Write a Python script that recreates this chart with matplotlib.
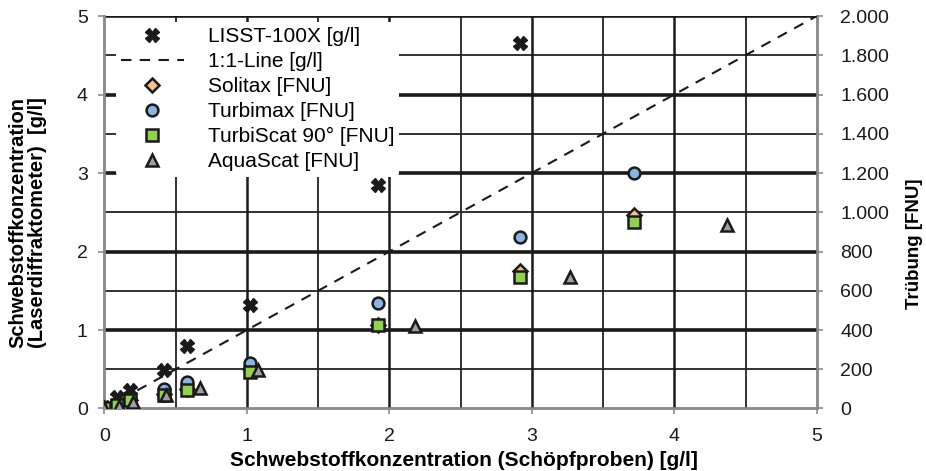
import matplotlib
matplotlib.use("Agg")
import matplotlib.pyplot as plt
from matplotlib.ticker import FuncFormatter, MultipleLocator

plt.rcParams['font.family'] = ['Liberation Sans', 'DejaVu Sans']

# Sample concentrations (Schöpfproben) [g/l]
x_probe = [0.0, 0.09, 0.18, 0.42, 0.58, 1.02, 1.92, 2.92, 3.72]
x_aqua = [0.0, 0.10, 0.20, 0.43, 0.67, 1.08, 2.18, 3.27, 4.37]

# LISST-100X concentration [g/l]
lisst = [0.02, 0.15, 0.24, 0.49, 0.79, 1.32, 2.85, 4.66, None]

# Turbidity readings [FNU]
solitax = [0, 20, 45, 72, 100, 200, 428, 700, 985]
turbimax = [0, 25, 50, 98, 137, 231, 538, 876, 1200]
turbiscat = [0, 18, 43, 69, 95, 188, 424, 671, 950]
aquascat = [0, 13, 35, 68, 103, 196, 422, 671, 933]

one_to_one = [0, 5]

fig = plt.figure(figsize=(9.26, 4.71), dpi=100)
ax = fig.add_axes([0.1128, 0.1327, 0.7692, 0.8333])
ax2 = ax.twinx()

ax.set_xlim(0, 5)
ax.set_ylim(0, 5)
ax2.set_ylim(0, 2000)

# grid: half-steps thin, whole steps heavy
for v in [0.5, 1.5, 2.5, 3.5, 4.5]:
    ax.axhline(v, color='#222222', lw=1.3, zorder=0.5)
    ax.axvline(v, color='#222222', lw=1.3, zorder=0.5)
for v in [1, 2, 3, 4, 5]:
    ax.axhline(v, color='#1a1a1a', lw=2.6, zorder=0.5)
    if v < 5:
        ax.axvline(v, color='#1a1a1a', lw=1.8, zorder=0.5)

ax.set_zorder(ax2.get_zorder() + 1)
ax.patch.set_visible(False)

lx = [x for x, v in zip(x_probe, lisst) if v is not None]
ly = [v for v in lisst if v is not None]
h1, = ax.plot(lx, ly, linestyle='none', marker='X', ms=10, color='#1a1a1a',
              mec='#1a1a1a', zorder=5, label='LISST-100X [g/l]')
h2, = ax.plot(one_to_one, one_to_one, linestyle=(0, (5, 4)), color='#1a1a1a',
              lw=1.5, zorder=4, label='1:1-Line [g/l]')

# turbidity plotted on the FNU scale (2000 FNU = 5 g/l)
def fnu(vals):
    return [v / 400.0 for v in vals]

h3, = ax.plot(x_probe, fnu(solitax), linestyle='none', marker='D', ms=7.5,
              mfc='#f9bf8f', mec='#1a1a1a', mew=1.8, zorder=6, label='Solitax [FNU]')
h4, = ax.plot(x_probe, fnu(turbimax), linestyle='none', marker='o', ms=8.5,
              mfc='#8db3e2', mec='#1a1a1a', mew=1.8, zorder=7, label='Turbimax [FNU]')
h5, = ax.plot(x_probe, fnu(turbiscat), linestyle='none', marker='s', ms=8,
              mfc='#92d050', mec='#1a1a1a', mew=1.8, zorder=8, label='TurbiScat 90° [FNU]')
h6, = ax.plot(x_aqua, fnu(aquascat), linestyle='none', marker='^', ms=9,
              mfc='#a0a0a0', mec='#1a1a1a', mew=1.8, zorder=9, label='AquaScat [FNU]')

for a in (ax, ax2):
    for s in ['left', 'bottom', 'right']:
        a.spines[s].set_color('#8c8c8c')
        a.spines[s].set_linewidth(1.8)
    a.spines['top'].set_visible(False)

ax.set_xticks([0, 1, 2, 3, 4, 5])
ax.set_yticks([0, 1, 2, 3, 4, 5])
ax.tick_params(axis='both', labelsize=14, colors='#8c8c8c', labelcolor='#1a1a1a',
               length=4, width=1.2, direction='out')
ax.tick_params(axis='x', pad=10)
ax.tick_params(axis='y', pad=8)
ax2.yaxis.set_major_locator(MultipleLocator(200))
ax2.yaxis.set_major_formatter(FuncFormatter(lambda v, p: f"{int(v):,}".replace(',', '.')))
ax2.tick_params(axis='y', labelsize=14, colors='#8c8c8c', labelcolor='#1a1a1a',
                length=4, width=1.2, direction='out', pad=13)

ax.set_xlabel('Schwebstoffkonzentration (Schöpfproben) [g/l]', fontsize=15,
              fontweight='bold')
ax.xaxis.set_label_coords(0.505, -0.108)
ax.xaxis.label.set_va('top')
ax.set_ylabel('Schwebstoffkonzentration\n(Laserdiffraktometer)  [g/l]', fontsize=14.5,
              fontweight='bold', linespacing=1.05)
ax.yaxis.set_label_coords(-0.08, 0.475)
ax2.set_ylabel('Trübung [FNU]', fontsize=13.5, fontweight='bold')
ax2.yaxis.set_label_coords(1.125, 0.42)

# legend sits above the grid but beneath the data markers
leg = ax.legend(handles=[h1, h2, h3, h4, h5, h6], loc='upper left',
                bbox_to_anchor=(0.016, 0.985), fontsize=15, frameon=True,
                facecolor='white', edgecolor='none', framealpha=1,
                borderpad=0.25, labelspacing=0.29, handlelength=3.0,
                handletextpad=1.15, borderaxespad=0.0)
leg.set_zorder(3)

fig.savefig('out.png', dpi=100)
